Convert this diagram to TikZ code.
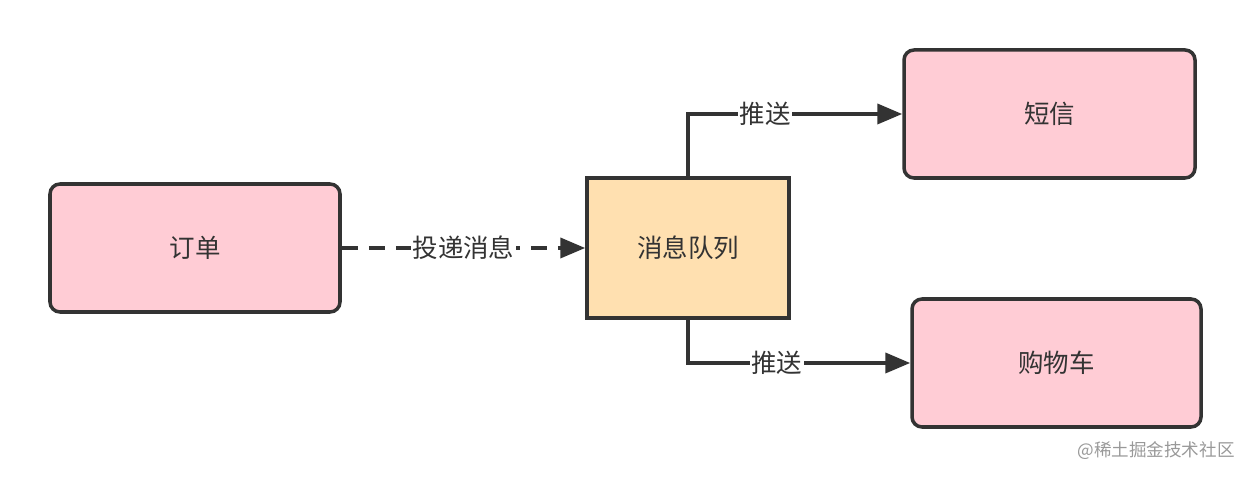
\documentclass[tikz,border=0pt]{standalone}
\usepackage{fontspec}
\setmainfont{Noto Sans CJK SC}
\usetikzlibrary{positioning, arrows.meta}
\definecolor{petal}{HTML}{FFCCD5}
\definecolor{apricot}{HTML}{FFE0B0}
\definecolor{ink}{HTML}{333333}
\tikzset{
  servicebox/.style={draw=ink, line width=2pt, fill=petal, rounded corners=0.2cm,
    minimum width=5.8cm, minimum height=2.56cm, inner sep=0pt, text=ink,
    font=\fontsize{14.5}{17}\selectfont},
  queuebox/.style={draw=ink, line width=2pt, fill=apricot,
    minimum width=4.04cm, minimum height=2.8cm, inner sep=0pt, text=ink,
    font=\fontsize{14.5}{17}\selectfont},
  flow/.style={draw=ink, line width=2.2pt, -{Triangle[length=0.5cm, width=0.4cm]}},
  flowlabel/.style={fill=white, inner sep=1pt, text=ink, font=\fontsize{14.5}{17}\selectfont}
}
\begin{document}
\begin{tikzpicture}
        \useasboundingbox (0,0) rectangle (25.04,9.56);
        \node[servicebox] (order) at (3.9,4.6) {订单};
        \node[queuebox] (mq) at (13.76,4.6) {消息队列};
        \node[servicebox, minimum width=5.82cm] (sms) at (20.99,7.28) {短信};
        \node[servicebox, minimum width=5.78cm] (cart) at (21.13,2.30) {购物车};
        \draw[flow, dash pattern=on 0.32cm off 0.22cm] (order) -- (mq) node[flowlabel, midway] {投递消息};
        \draw[flow] (mq.north) |- (sms) node[flowlabel, pos=0.68] {推送};
        \draw[flow] (mq.south) |- (cart) node[flowlabel, pos=0.7] {推送};
        \node[text=black!40, font=\fontsize{10}{12}\selectfont] (mark) at (23.12,0.54) {@稀土掘金技术社区};
      \end{tikzpicture}
\end{document}
